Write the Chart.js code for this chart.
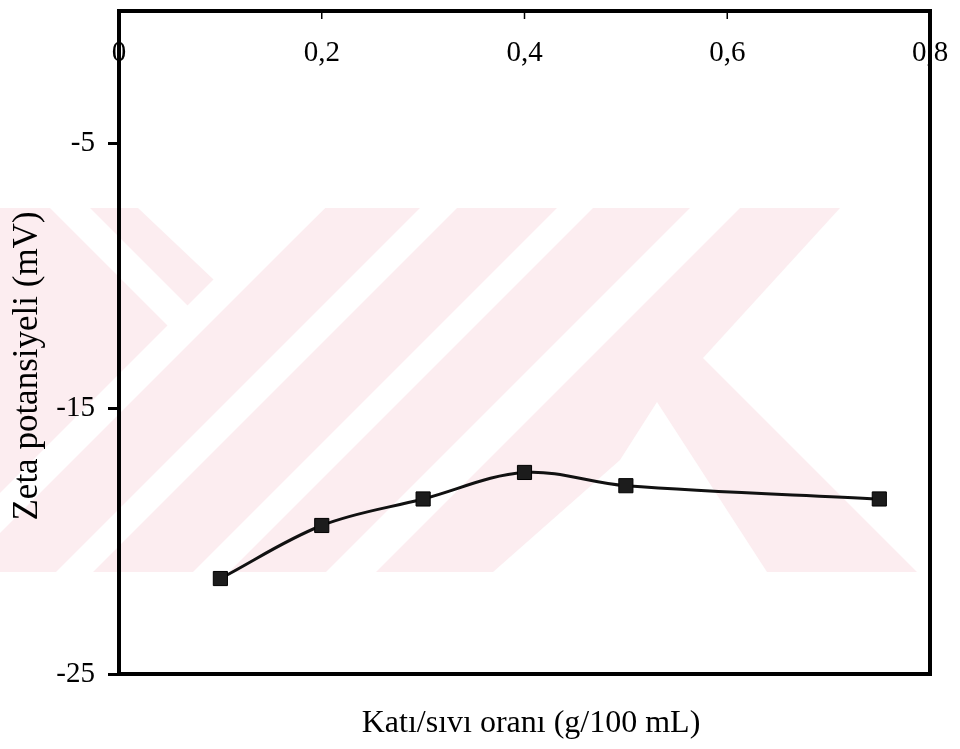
<!DOCTYPE html>
<html>
<head>
<meta charset="utf-8">
<script src="https://cdn.jsdelivr.net/npm/chart.js@4.4.1/dist/chart.umd.min.js"></script>
<style>
  html, body { margin: 0; padding: 0; background: #fff; }
</style>
</head>
<body>
<canvas id="zeta" width="960" height="749"></canvas>
<script>
// Katı/sıvı oranı (g/100 mL)
const oran = [0.1, 0.2, 0.3, 0.4, 0.5, 0.75];
// Zeta potansiyeli (mV)
const zeta = [-21.4, -19.4, -18.4, -17.4, -17.9, -18.4];

const xTicks = [0, 0.2, 0.4, 0.6, 0.8];
const xTickLabels = ["0", "0,2", "0,4", "0,6", "0,8"];
const yTicks = [-25, -15, -5];
const yTickLabels = ["-25", "-15", "-5"];

const xTitle = "Katı/sıvı oranı (g/100 mL)";
const yTitle = "Zeta potansiyeli (mV)";

const serif = "'Liberation Serif', 'Times New Roman', serif";

// soluk pembe arka plan deseni (filigran)
const filigran = {
  id: "filigran",
  beforeDraw(chart) {
    const ctx = chart.ctx;
    const y0 = 208, y1 = 572, h = y1 - y0;
    const poly = (pts) => {
      ctx.beginPath();
      ctx.moveTo(pts[0][0], pts[0][1]);
      for (let i = 1; i < pts.length; i++) ctx.lineTo(pts[i][0], pts[i][1]);
      ctx.closePath();
      ctx.fill();
    };
    const serit = (a, b) => poly([[a, y0], [b, y0], [b - h, y1], [a - h, y1]]);
    ctx.save();
    ctx.beginPath();
    ctx.rect(0, y0, 960, h);
    ctx.clip();
    ctx.fillStyle = "#fcedf0";
    ctx.fillRect(0, y0, 920, h);
    ctx.fillStyle = "#fff";
    poly([[138, y0], [325, y0], [233, 298]]);
    serit(285, 325);
    poly([[50, y0], [90, y0], [207, 325], [187, 345]]);
    serit(420, 457);
    serit(557, 593);
    serit(690, 740);
    poly([[840, y0], [960, y0], [960, y1], [917, y1], [703, 358]]);
    poly([[493, y1], [620, 460], [657, 402], [767, y1]]);
    ctx.restore();
  }
};

// çerçeve, iç tikler ve eksen başlıkları
const cerceve = {
  id: "cerceve",
  afterDraw(chart) {
    const ctx = chart.ctx;
    const a = chart.chartArea;
    const sx = chart.scales.x;
    ctx.save();
    ctx.strokeStyle = "#000";
    ctx.lineWidth = 1.5;
    xTicks.forEach((v) => {
      const px = sx.getPixelForValue(v);
      ctx.beginPath();
      ctx.moveTo(px, a.top);
      ctx.lineTo(px, a.top + 8);
      ctx.stroke();
    });
    ctx.lineWidth = 4;
    ctx.strokeRect(a.left, a.top, a.right - a.left, a.bottom - a.top);

    ctx.fillStyle = "#000";
    ctx.font = "32px " + serif;
    ctx.textAlign = "center";
    ctx.textBaseline = "alphabetic";
    ctx.fillText(xTitle, 531, 732);

    ctx.font = "35px " + serif;
    ctx.translate(37, 366);
    ctx.rotate(-Math.PI / 2);
    ctx.fillText(yTitle, 0, 0);
    ctx.restore();
  }
};

new Chart(document.getElementById("zeta"), {
  type: "line",
  data: {
    datasets: [{
      data: oran.map((x, i) => ({ x: x, y: zeta[i] })),
      borderColor: "#111",
      borderWidth: 3,
      tension: 0.35,
      pointStyle: "rect",
      pointRadius: 10,
      pointBackgroundColor: "#1c1c1c",
      pointBorderColor: "#000",
      pointBorderWidth: 1,
      fill: false
    }]
  },
  options: {
    responsive: false,
    animation: false,
    devicePixelRatio: 1,
    layout: { padding: { left: 0, right: 30, top: 0, bottom: 75 } },
    plugins: { legend: { display: false }, tooltip: { enabled: false } },
    scales: {
      x: {
        type: "linear",
        position: "top",
        min: 0,
        max: 0.8,
        afterBuildTicks: (s) => { s.ticks = xTicks.map((v) => ({ value: v })); },
        afterFit: (s) => { s.height = 7; s.paddingLeft = 0; s.paddingRight = 0; },
        grid: { drawOnChartArea: false, drawTicks: false },
        border: { display: false },
        ticks: {
          color: "#000",
          font: { family: serif, size: 29 },
          mirror: true,
          padding: 25,
          maxRotation: 0,
          autoSkip: false,
          callback: (v, i) => xTickLabels[i]
        }
      },
      y: {
        min: -25,
        max: 0,
        afterBuildTicks: (s) => { s.ticks = yTicks.map((v) => ({ value: v })); },
        afterFit: (s) => { s.width = 119; s.paddingTop = 0; s.paddingBottom = 0; },
        grid: { drawOnChartArea: false, drawTicks: true, tickLength: 11, lineWidth: 3, color: "#000" },
        border: { display: false },
        ticks: {
          color: "#000",
          font: { family: serif, size: 29 },
          padding: 13,
          callback: (v, i) => yTickLabels[i]
        }
      }
    }
  },
  plugins: [filigran, cerceve]
});
</script>
</body>
</html>
